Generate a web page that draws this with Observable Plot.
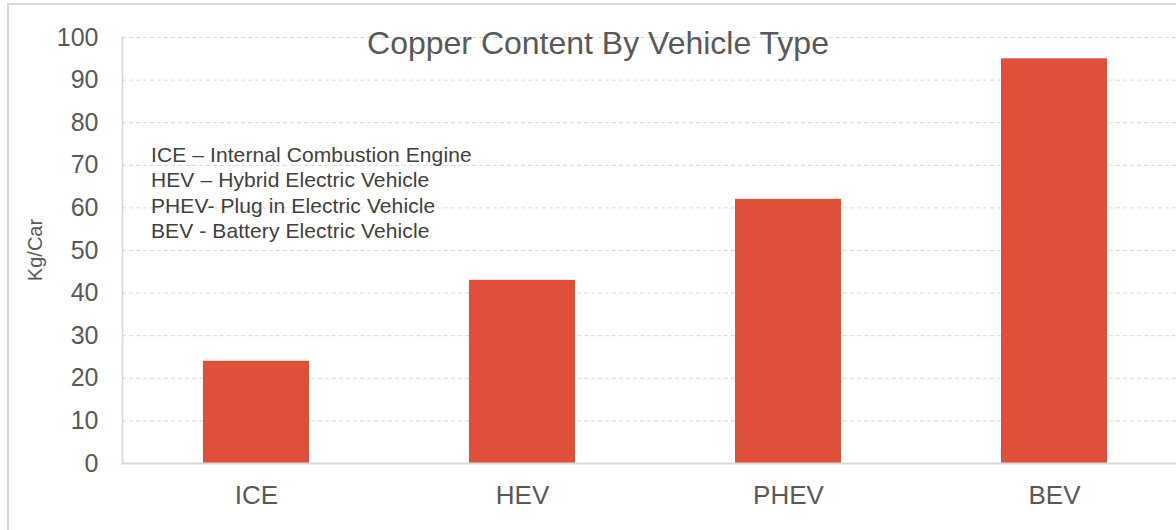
<!DOCTYPE html>
<html><head><meta charset="utf-8">
<script src="https://cdn.jsdelivr.net/npm/d3@7"></script>
<script src="https://cdn.jsdelivr.net/npm/@observablehq/plot@0.6"></script>
<style>
body{margin:0;background:#fff;overflow:hidden;font-family:"Liberation Sans",Arial,sans-serif;}
#wrap{position:relative;width:1176px;height:530px;overflow:hidden;background:#fff;}
#border{position:absolute;left:7px;top:3px;width:1220px;height:580px;border:2px solid #d9d9d9;box-sizing:border-box;}
#chart{position:absolute;left:0;top:0;}
#title{position:absolute;left:598px;top:27px;transform:translateX(-50%);font-size:32px;line-height:32px;color:#595959;white-space:nowrap;}
#notes{position:absolute;left:151px;top:141.6px;font-size:21px;line-height:25.6px;color:#404040;white-space:nowrap;letter-spacing:0.1px;}
#ylabel{position:absolute;left:35px;top:250px;transform:translate(-50%,-50%) rotate(-90deg);font-size:20px;color:#595959;white-space:nowrap;}
</style></head>
<body>
<div id="wrap">
  <div id="border"></div>
  <div id="chart"></div>
  <div id="title"></div>
  <div id="notes"></div>
  <div id="ylabel"></div>
</div>
<script>
const titleText = "Copper Content By Vehicle Type";
const yLabel = "Kg/Car";
const categories = ["ICE", "HEV", "PHEV", "BEV"];
const values = [24, 43, 62, 95];
const yTicks = [0, 10, 20, 30, 40, 50, 60, 70, 80, 90, 100];
const notes = [
  "ICE – Internal Combustion Engine",
  "HEV – Hybrid Electric Vehicle",
  "PHEV- Plug in Electric Vehicle",
  "BEV - Battery Electric Vehicle"
];

const data = categories.map((c, i) => ({category: c, value: values[i]}));

const chart = Plot.plot({
  width: 1176,
  height: 530,
  marginLeft: 122,
  marginRight: -13,
  marginTop: 37,
  marginBottom: 67,
  style: {fontFamily: '"Liberation Sans", Arial, sans-serif', color: "#595959", background: "transparent"},
  x: {domain: categories, paddingInner: 0.6, paddingOuter: 0.3, label: null},
  y: {domain: [0, 100], label: null},
  marks: [
    Plot.gridY(yTicks, {stroke: "#d9d9d9", strokeOpacity: 1, strokeDasharray: "4,3"}),
    Plot.barY(data, {x: "category", y: "value", fill: "#E04F39"}),
    Plot.ruleY([0], {stroke: "#d9d9d9", strokeWidth: 1.8}),
    Plot.frame({anchor: "left", stroke: "#d9d9d9", strokeWidth: 1.8}),
    Plot.axisY(yTicks, {tickSize: 0, tickPadding: 24, fontSize: 25, label: null}),
    Plot.axisX({tickSize: 0, tickPadding: 22, fontSize: 26, label: null})
  ]
});
document.getElementById("chart").appendChild(chart);
document.getElementById("title").textContent = titleText;
document.getElementById("ylabel").textContent = yLabel;
document.getElementById("notes").innerHTML = notes.map(n => `<div>${n}</div>`).join("");
</script>
</body></html>
